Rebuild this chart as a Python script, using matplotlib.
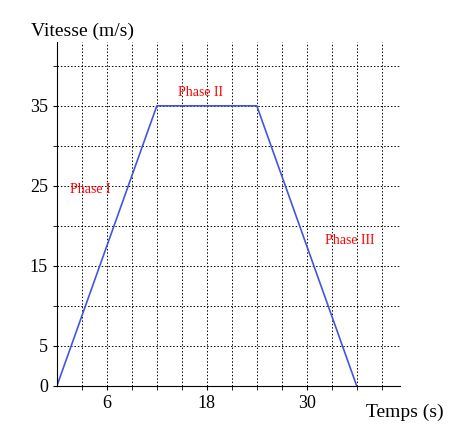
import matplotlib
matplotlib.use("Agg")
import matplotlib.pyplot as plt

t = [0, 12, 24, 36]
v = [0, 35, 35, 0]
xticks = [6, 18, 30]
yticks = [0, 5, 15, 25, 35]
phases = ["Phase I", "Phase II", "Phase III"]
phase_pos = [(4, 24.5), (17.2, 36.7), (35.2, 18.2)]

plt.rcParams['font.family'] = ['Liberation Serif', 'DejaVu Serif']
fig = plt.figure(figsize=(4.74, 4.47), dpi=100)
ax = fig.add_axes([0.12, 0.1365, 0.724, 0.77])
ax.plot(t, v, color='#4455dd', lw=1.2)
ax.set_xlim(0, 41.2)
ax.set_ylim(0, 43)
ax.set_xticks(xticks)
ax.set_yticks(yticks)
ax.set_xticks(range(3, 42, 3), minor=True)
ax.set_yticks(range(5, 43, 5), minor=True)
ax.grid(True, which='both', color='black', linestyle=(0, (1.5, 2)), lw=0.7)
for s in ['top', 'right']:
    ax.spines[s].set_visible(False)
ax.tick_params(labelsize=13, length=3, which='both')
for name, (x, y) in zip(phases, phase_pos):
    ax.text(x, y, name, color='red', fontsize=10, ha='center', va='center')
fig.text(0.065, 0.93, "Vitesse (m/s)", fontsize=14, ha='left', va='center')
fig.text(0.855, 0.078, "Temps (s)", fontsize=14, ha='center', va='center')
fig.savefig("out.png", dpi=100)
